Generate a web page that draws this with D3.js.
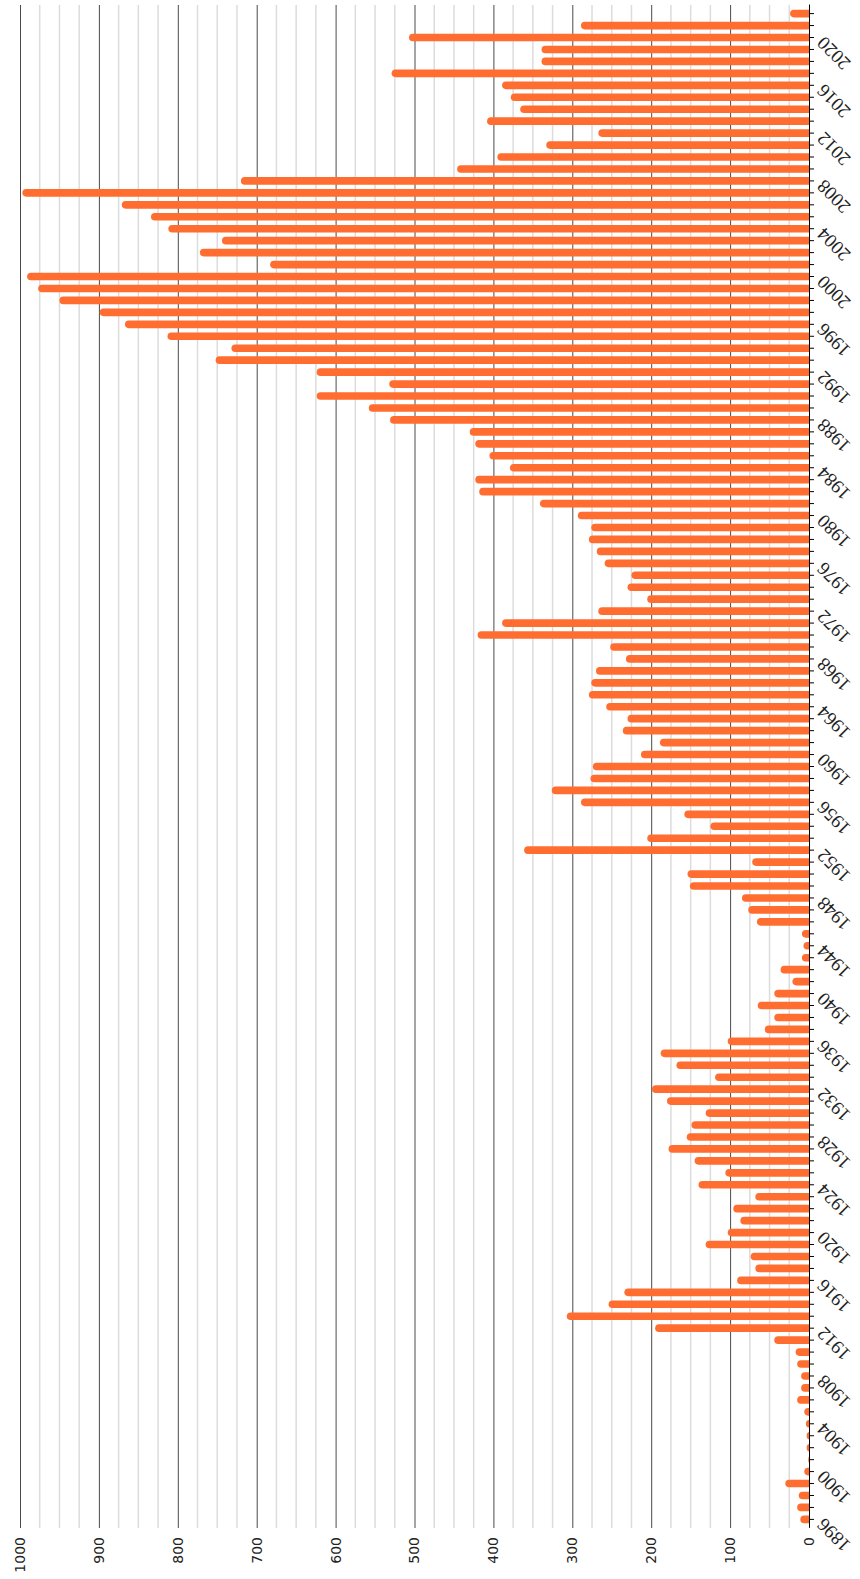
<!DOCTYPE html>
<html>
<head>
<meta charset="utf-8">
<script src="https://cdn.jsdelivr.net/npm/d3@7"></script>
<style>
    body { margin: 0; background: #fff; }
    svg  { display: block; }
</style>
</head>
<body>
<svg id="chart" width="860" height="1579"></svg>
<script>
"use strict"

var years = [
    1896, 1897, 1898, 1899, 1900, 1901, 1902, 1903, 1904, 1905,
    1906, 1907, 1908, 1909, 1910, 1911, 1912, 1913, 1914, 1915,
    1916, 1917, 1918, 1919, 1920, 1921, 1922, 1923, 1924, 1925,
    1926, 1927, 1928, 1929, 1930, 1931, 1932, 1933, 1934, 1935,
    1936, 1937, 1938, 1939, 1940, 1941, 1942, 1943, 1944, 1945,
    1946, 1947, 1948, 1949, 1950, 1951, 1952, 1953, 1954, 1955,
    1956, 1957, 1958, 1959, 1960, 1961, 1962, 1963, 1964, 1965,
    1966, 1967, 1968, 1969, 1970, 1971, 1972, 1973, 1974, 1975,
    1976, 1977, 1978, 1979, 1980, 1981, 1982, 1983, 1984, 1985,
    1986, 1987, 1988, 1989, 1990, 1991, 1992, 1993, 1994, 1995,
    1996, 1997, 1998, 1999, 2000, 2001, 2002, 2003, 2004, 2005,
    2006, 2007, 2008, 2009, 2010, 2011, 2012, 2013, 2014, 2015,
    2016, 2017, 2018, 2019, 2020, 2021, 2022
];

var counts = [
     11,  15,  13,  30,   6,   1,   3,   3,   4,   6,
     15,  10,  10,  15,  17,  44, 195, 307, 254, 234,
     91,  68,  74, 131, 103,  87,  96,  68, 140, 106,
    145, 178, 155, 149, 131, 180, 199, 119, 168, 188,
    103,  56,  44,  65,  44,  21,  36,   9,   7,   9,
     66,  77,  85, 151, 154,  72, 361, 205, 125, 158,
    289, 326, 277, 274, 213, 189, 236, 230, 257, 279,
    276, 270, 232, 252, 420, 389, 267, 205, 230, 225,
    259, 269, 279, 276, 293, 341, 418, 423, 379, 405,
    423, 430, 531, 558, 624, 532, 624, 752, 732, 813,
    867, 899, 950, 977, 991, 683, 772, 744, 812, 834,
    871, 997, 720, 446, 395, 333, 267, 408, 366, 378,
    389, 529, 339, 339, 507, 289,  24
];

var majorTicks = [0, 100, 200, 300, 400, 500, 600, 700, 800, 900, 1000];
var minorTicks = [25, 50, 75, 125, 150, 175, 225, 250, 275, 325, 350, 375,
                  425, 450, 475, 525, 550, 575, 625, 650, 675, 725, 750, 775,
                  825, 850, 875, 925, 950, 975];
var labelYears = [1896, 1900, 1904, 1908, 1912, 1916, 1920, 1924, 1928, 1932,
                  1936, 1940, 1944, 1948, 1952, 1956, 1960, 1964, 1968, 1972,
                  1976, 1980, 1984, 1988, 1992, 1996, 2000, 2004, 2008, 2012,
                  2016, 2020];

// chart is laid out as a normal column chart, then turned a quarter left
var plotW = 1523;   // length of the year axis
var plotH = 789;    // length of the value axis
var barColor = "#ff6e30";

function draw() {
    var svg = d3.select("#chart");
    var g = svg.append("g")
        .attr("transform", "translate(20,1528) rotate(-90)");

    var x = d3.scaleBand()
        .domain(years)
        .range([0, plotW])
        .paddingInner(0.36)
        .paddingOuter(0.4);

    var y = d3.scaleLinear()
        .domain([0, 1000])
        .range([plotH, 0]);

    g.append("defs").append("clipPath")
        .attr("id", "plot-clip")
        .append("rect")
        .attr("x", 0).attr("y", 0)
        .attr("width", plotW).attr("height", plotH);

    // light gridlines every 25
    g.append("g")
        .attr("class", "minor-grid")
        .selectAll("line").data(minorTicks)
        .enter().append("line")
        .attr("x1", 0).attr("x2", plotW)
        .attr("y1", d => y(d)).attr("y2", d => y(d))
        .style("stroke", "#dcdcdc")
        .style("stroke-width", 1.5);

    // value axis: dark gridlines + labels
    var yAxis = g.append("g")
        .attr("class", "y-axis")
        .call(d3.axisLeft(y)
            .tickValues(majorTicks)
            .tickFormat(d3.format("d"))
            .tickSize(-plotW)
            .tickSizeOuter(0)
            .tickPadding(9));
    yAxis.select(".domain").remove();
    yAxis.selectAll(".tick line")
        .style("stroke", "#4a4a4a")
        .style("stroke-width", 1);
    yAxis.selectAll(".tick text")
        .attr("font-family", "DejaVu Sans, sans-serif")
        .attr("font-size", "14px")
        .style("fill", "#222");

    var r = x.bandwidth() / 2;
    g.append("g")
        .attr("clip-path", "url(#plot-clip)")
        .selectAll("rect.bar").data(years)
        .enter().append("rect")
        .attr("class", "bar")
        .attr("x", d => x(d))
        .attr("width", x.bandwidth())
        .attr("y", (d, i) => y(counts[i]))
        .attr("height", (d, i) => plotH - y(counts[i]) + r)
        .attr("rx", r)
        .style("fill", barColor);

    // year axis
    var xAxis = g.append("g")
        .attr("class", "x-axis")
        .attr("transform", "translate(0," + plotH + ")")
        .call(d3.axisBottom(x)
            .tickSize(5)
            .tickSizeOuter(0)
            .tickFormat(d => labelYears.indexOf(d) >= 0 ? d : ""));
    xAxis.select(".domain").style("stroke", "#000");
    xAxis.selectAll(".tick line").style("stroke", "#000");
    xAxis.selectAll(".tick text")
        .attr("font-family", "Liberation Serif, serif")
        .attr("font-size", "19px")
        .style("fill", "#222")
        .style("text-anchor", "end")
        .attr("dx", "-0.5em")
        .attr("dy", "0.25em")
        .attr("transform", "rotate(-45)");
}

draw();
</script>
</body>
</html>
